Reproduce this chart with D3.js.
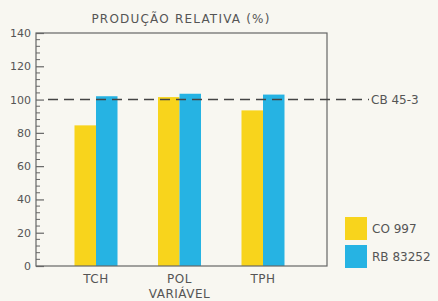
<!DOCTYPE html>
<html lang="pt">
<head>
  <meta charset="UTF-8">
  <title>Produção relativa</title>
  <script src="https://d3js.org/d3.v7.min.js"></script>
  <style>
    body { margin: 0; background: #f8f7f1; }
    svg { display: block; font-family: "DejaVu Sans", sans-serif; }
    .lbl { fill: #555; font-size: 11px; }
    .big { fill: #555; font-size: 12px; }
    .cat { fill: #555; font-size: 12px; letter-spacing: 0.5px; }
  </style>
</head>
<body>
  <svg width="438" height="301"></svg>
  <script>
    const categories = ["TCH", "POL", "TPH"];
    const seriesNames = ["CO 997", "RB 83252"];
    const co997 = [84.5, 101.5, 93.5];
    const rb83252 = [102, 103.5, 103];
    const refValue = 100;
    const refLabel = "CB 45-3";
    const yTicks = [0, 20, 40, 60, 80, 100, 120, 140];
    const colors = ["#f8d41c", "#26b3e3"];

    const W = 438, H = 301;
    const plot = {left: 36, right: 327, top: 33, bottom: 266};
    const svg = d3.select("svg");

    const x = d3.scaleBand()
      .domain(categories)
      .range([74.5, 284.5])
      .paddingInner(0.485).paddingOuter(0);
    const xs = d3.scaleBand().domain(seriesNames).range([0, x.bandwidth()]);
    const y = d3.scaleLinear().domain([0, 140]).range([plot.bottom, plot.top]);

    const series = [co997, rb83252];
    series.forEach((vals, si) => {
      svg.append("g").selectAll("rect")
        .data(vals)
        .join("rect")
        .attr("x", (d, i) => x(categories[i]) + xs(seriesNames[si]))
        .attr("width", xs.bandwidth())
        .attr("y", d => y(d))
        .attr("height", d => y(0) - y(d))
        .attr("fill", colors[si]);
    });

    // frame
    svg.append("rect")
      .attr("x", plot.left).attr("y", plot.top)
      .attr("width", plot.right - plot.left)
      .attr("height", plot.bottom - plot.top)
      .attr("fill", "none").attr("stroke", "#666").attr("stroke-width", 1.2);

    // minor ticks every 4
    svg.append("g").selectAll("line")
      .data(d3.range(0, 140.1, 4).filter(v => v % 20 !== 0))
      .join("line")
      .attr("x1", plot.left).attr("x2", plot.left + 4)
      .attr("y1", d => y(d)).attr("y2", d => y(d))
      .attr("stroke", "#666");

    // major ticks and labels
    const yAxis = svg.append("g")
      .attr("transform", `translate(${plot.left},0)`)
      .call(d3.axisRight(y).tickValues(yTicks).tickSize(8).tickFormat(""));
    yAxis.select(".domain").remove();
    yAxis.selectAll("line").attr("stroke", "#666").attr("stroke-width", 1.2);
    svg.append("g").selectAll("text")
      .data(yTicks)
      .join("text")
      .attr("class", "lbl")
      .attr("x", plot.left - 5)
      .attr("y", d => y(d) + 4)
      .attr("text-anchor", "end")
      .text(d => d);

    // reference line
    svg.append("line")
      .attr("x1", plot.left + 12).attr("x2", 369)
      .attr("y1", y(refValue)).attr("y2", y(refValue))
      .attr("stroke", "#444").attr("stroke-width", 1.5)
      .attr("stroke-dasharray", "10,6");
    svg.append("text").attr("class", "big")
      .attr("x", 371).attr("y", y(refValue) + 4)
      .text(refLabel);

    // category labels
    svg.append("g").selectAll("text")
      .data(categories)
      .join("text")
      .attr("class", "cat")
      .attr("x", d => x(d) + x.bandwidth() / 2)
      .attr("y", 283)
      .attr("text-anchor", "middle")
      .text(d => d);
    svg.append("text").attr("class", "cat")
      .attr("x", x("POL") + x.bandwidth() / 2)
      .attr("y", 298)
      .attr("text-anchor", "middle")
      .text("VARIÁVEL");

    // title
    svg.append("text").attr("class", "big")
      .attr("x", 181).attr("y", 23)
      .attr("text-anchor", "middle")
      .style("letter-spacing", "1.2px")
      .text("PRODUÇÃO RELATIVA (%)");

    // legend
    const lg = svg.append("g").selectAll("g")
      .data(seriesNames)
      .join("g")
      .attr("transform", (d, i) => `translate(345,${217 + i * 28})`);
    lg.append("rect").attr("width", 22).attr("height", 23)
      .attr("fill", (d, i) => colors[i]);
    lg.append("text").attr("class", "big")
      .attr("x", 27).attr("y", 16)
      .text(d => d);
  </script>
</body>
</html>
